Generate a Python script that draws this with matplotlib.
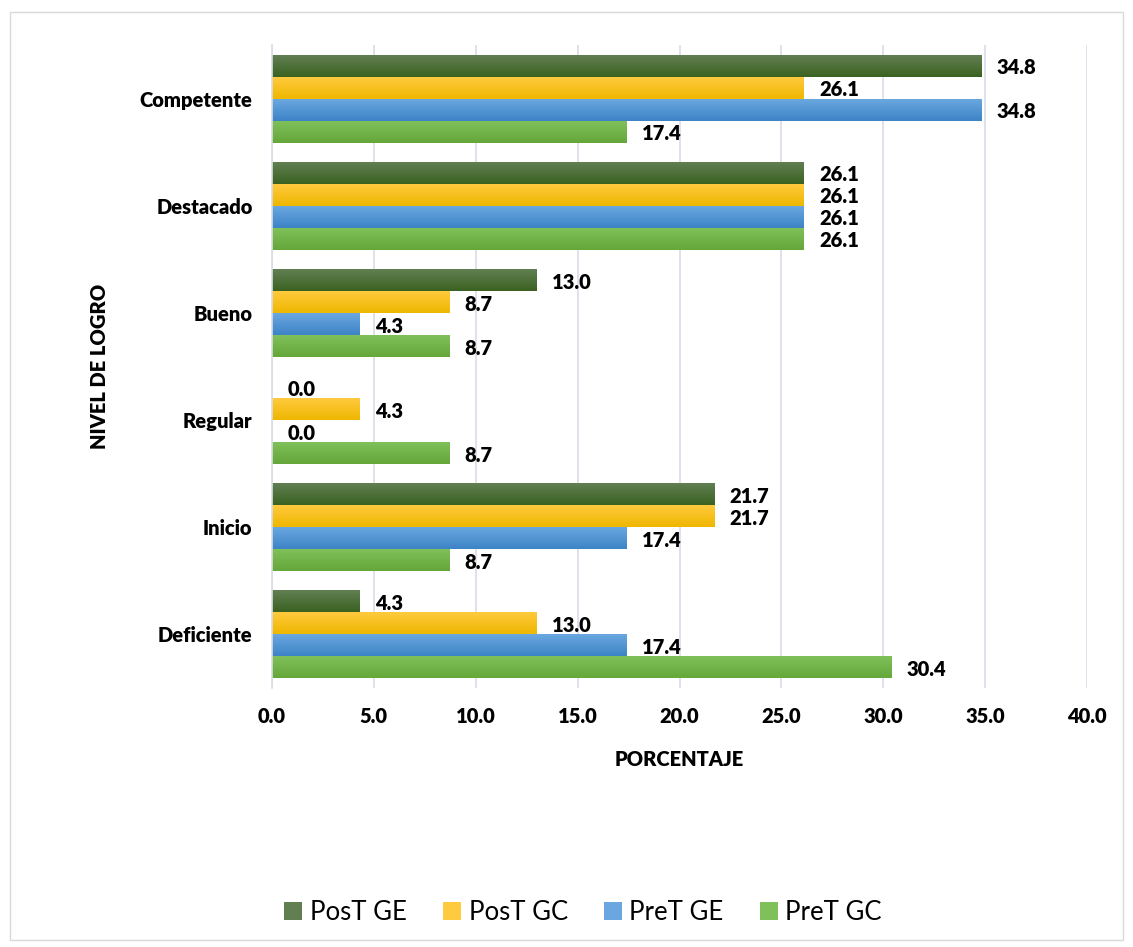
import numpy as np
import matplotlib.pyplot as plt
from matplotlib.colors import LinearSegmentedColormap
from matplotlib.patches import Rectangle

niveles = ["Competente", "Destacado", "Bueno", "Regular", "Inicio", "Deficiente"]
series = ["PosT GE", "PosT GC", "PreT GE", "PreT GC"]
post_ge = [34.8, 26.1, 13.0, 0.0, 21.7, 4.3]
post_gc = [26.1, 26.1, 8.7, 4.3, 21.7, 13.0]
pret_ge = [34.8, 26.1, 4.3, 0.0, 17.4, 17.4]
pret_gc = [17.4, 26.1, 8.7, 8.7, 8.7, 30.4]
valores = [post_ge, post_gc, pret_ge, pret_gc]

# top / bottom colours of each bar's vertical gradient
grad = [("#627f52", "#3a6221"),
        ("#ffca3e", "#efb700"),
        ("#6aa7e0", "#3d84c6"),
        ("#7fc05a", "#65a739")]

plt.rcParams['font.family'] = ['Lato', 'DejaVu Sans']
FS = 14.5
WT = "heavy"

fig = plt.figure(figsize=(11.33, 9.47), dpi=100)
W, H = 1133, 947
ax = fig.add_axes([272 / W, 1 - 688 / H, (1087 - 272) / W, (688 - 45) / H])

fig.patches.append(Rectangle((10 / W, 1 - 940 / H), 1113 / W, 928 / H,
                             transform=fig.transFigure, fill=False,
                             edgecolor="#d9d9d9", lw=1.0, zorder=0))

bh = 0.205
ypos = np.arange(len(niveles))[::-1].astype(float)
gimg = np.linspace(0, 1, 50).reshape(-1, 1)

for j, (name, vals) in enumerate(zip(series, valores)):
    cmap = LinearSegmentedColormap.from_list(name, [grad[j][0], grad[j][1]])
    off = (1.5 - j) * bh
    for yc, v in zip(ypos, vals):
        y0 = yc + off - bh / 2
        if v > 0:
            ax.imshow(gimg, cmap=cmap, aspect="auto", origin="upper",
                      extent=[0, v, y0, y0 + bh], zorder=2)
        ax.text(v + 0.75, yc + off - 0.02, f"{v:.1f}", va="center", ha="left",
                fontsize=FS, fontweight=WT, zorder=3)
    ax.bar(0, 0, color=grad[j][0], label=name)

ax.set_xlim(0, 40)
ax.set_ylim(-0.5, 5.5)
ax.set_xticks(np.arange(0, 40.1, 5))
ax.set_xticklabels([f"{t:.1f}" for t in np.arange(0, 40.1, 5)],
                   fontsize=FS, fontweight=WT)
ax.set_yticks(ypos)
ax.set_yticklabels(niveles, fontsize=FS, fontweight=WT)
ax.tick_params(axis="y", length=0, pad=14)
ax.tick_params(axis="x", length=0, pad=14)
ax.grid(axis="x", color="#d9dde6", lw=1.2, zorder=0)
ax.set_axisbelow(True)
for s in ["top", "right", "bottom"]:
    ax.spines[s].set_visible(False)
ax.spines["left"].set_color("#d9dde6")
ax.spines["left"].set_linewidth(1.2)

ax.set_xlabel("PORCENTAJE", fontsize=FS, fontweight=WT)
ax.xaxis.set_label_coords(0.5, -0.097)
ax.set_ylabel("NIVEL DE LOGRO", fontsize=FS, fontweight=WT)
ax.yaxis.set_label_coords(-0.2, 0.5)

fig.legend(loc="center", bbox_to_anchor=(583 / W, 1 - 912 / H), ncol=4,
           frameon=False, fontsize=18.5, handlelength=0.7, handleheight=0.7,
           columnspacing=1.4, handletextpad=0.3)

fig.savefig("out.png", dpi=100)
